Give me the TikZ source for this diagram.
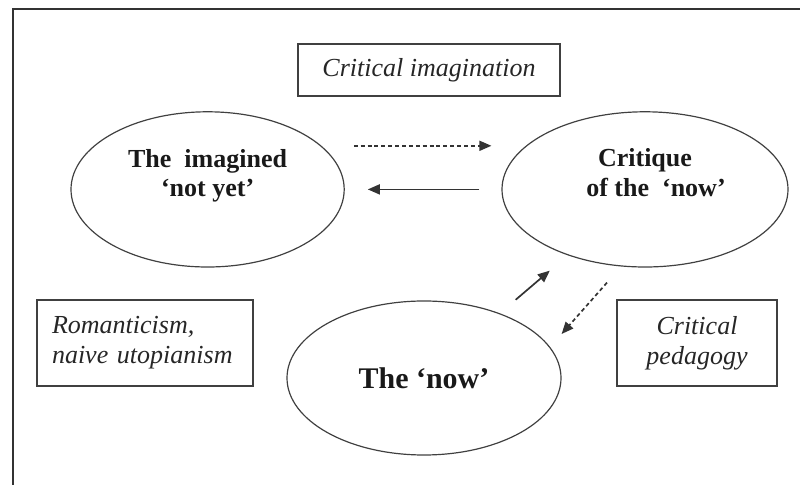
\documentclass[tikz,border=0pt]{standalone}
\usepackage{fontspec}
\setmainfont{Liberation Serif}
\usetikzlibrary{arrows.meta, positioning, shapes.geometric}
\newcommand*{\txtsize}{\fontsize{18.5}{21.3}\selectfont}

\begin{document}
\begin{tikzpicture}[
        on grid,>={Triangle[length=0.3cm,width=0.25cm]},
        oval/.style={ellipse, draw=black!75, line width=0.85pt, inner sep=0pt, minimum height=3.88cm},
        ovaltext/.style={align=center, text=black!90, font=\txtsize\bfseries},
        tag/.style={rectangle, draw=black!75, line width=1pt, inner sep=0pt, text=black!85, font=\txtsize\itshape},
        link/.style={draw=black!80, line width=1.2pt},
        hint/.style={link, dash pattern=on 2.8pt off 2.1pt},
        ]
        \useasboundingbox (0,0) rectangle (20,12.125);
        \draw[black!80, line width=1.4pt] (0.325,0) |- (20,11.9);

        \node[oval, minimum width=6.85cm, minimum height=3.85cm, text=black!90,
              font=\fontsize{21.3}{24}\selectfont\bfseries] (n_now) at (10.6,2.675) {The `now'};
        \node[oval, minimum width=6.83cm,
              label={[ovaltext, yshift=0.34cm]center:The\ \ imagined\\`not yet'}]
              (n_yet) [above left=4.715cm and 5.41cm of n_now] {};
        \node[oval, minimum width=7.15cm,
              label={[ovaltext, yshift=0.43cm]center:Critique\\\hspace*{0.55cm}of the\ \ `now'}]
              (n_crit) [above right=4.715cm and 5.525cm of n_now] {};

        \node[tag, minimum width=6.55cm, minimum height=1.3cm] (b_imag) at (10.725,10.375) {Critical imagination};
        \node[tag, text width=4.65cm, inner xsep=0.375cm, minimum height=2.15cm, align=left]
              (b_rom) [above left=0.875cm and 6.975cm of n_now] {Romanticism,\\naive utopianism};
        \node[tag, minimum width=4cm, minimum height=2.15cm, align=center]
              (b_ped) [above right=0.875cm and 6.825cm of n_now] {Critical\\pedagogy};

        \path[->] ([xshift=0.225cm,yshift=1.09cm]n_yet.east) edge [hint] ([xshift=-0.25cm,yshift=1.09cm]n_crit.west)
        (n_crit.west) edge [link, shorten <=0.55cm, shorten >=0.575cm] (n_yet.east)
        (n_now) edge [link, shorten <=0.52cm, shorten >=0.59cm] (n_crit)
        ([xshift=-0.95cm,yshift=-0.375cm]n_crit.south) edge [hint] ([yshift=1.1cm]n_now.east);
      \end{tikzpicture}
\end{document}
